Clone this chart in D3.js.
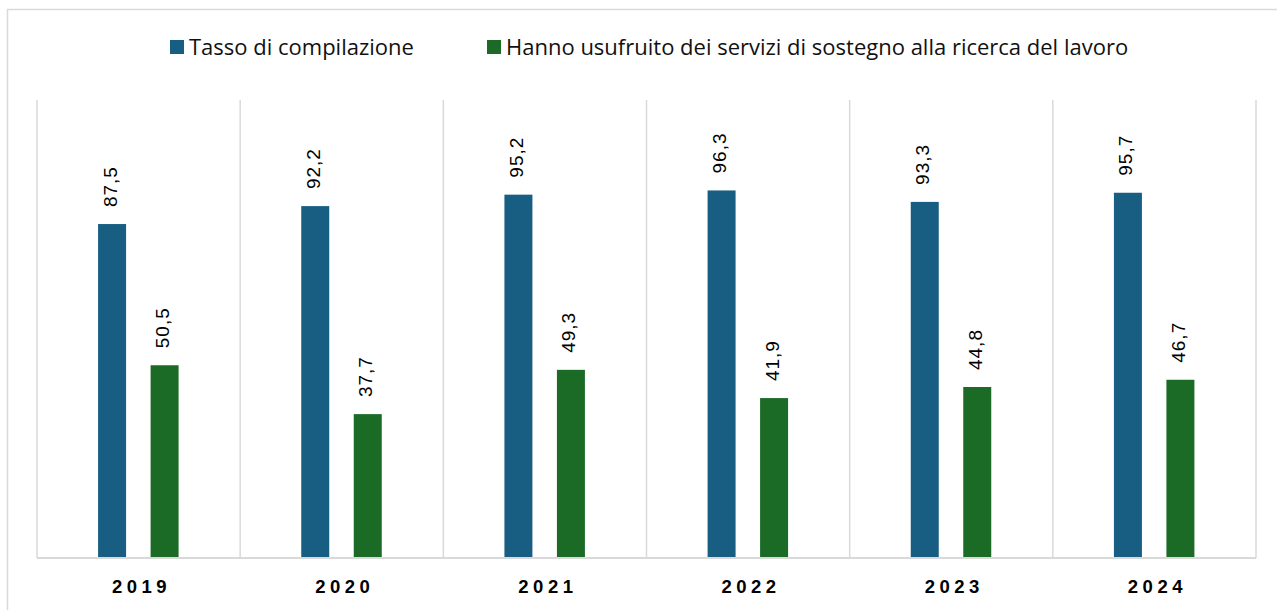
<!DOCTYPE html>
<html>
<head>
<meta charset="utf-8">
<script src="https://cdn.jsdelivr.net/npm/d3@7"></script>
<style>
  body { margin: 0; background: #fff; }
  svg { display: block; }
</style>
</head>
<body>
<svg id="chart" width="1277" height="610"></svg>
<script>
var years = ["2019", "2020", "2021", "2022", "2023", "2024"];
var seriesNames = ["Tasso di compilazione", "Hanno usufruito dei servizi di sostegno alla ricerca del lavoro"];
var compilazione = [87.5, 92.2, 95.2, 96.3, 93.3, 95.7];
var sostegno = [50.5, 37.7, 49.3, 41.9, 44.8, 46.7];
var colors = ["#175e82", "#1b6b27"];

var svg = d3.select("#chart"),
    margin = { top: 100, right: 21, bottom: 52, left: 37 },
    width = +svg.attr("width") - margin.left - margin.right,
    height = +svg.attr("height") - margin.top - margin.bottom;

// outer frame
svg.append("rect")
    .attr("x", 7.5).attr("y", 9.5)
    .attr("width", 1280).attr("height", 610)
    .attr("fill", "none")
    .attr("stroke", "#d9d9d9")
    .attr("stroke-width", 1.5);

var g = svg.append("g")
    .attr("transform", "translate(" + margin.left + "," + margin.top + ")");

var x = d3.scaleBand().domain(years).range([0, width]);
var y = d3.scaleLinear().domain([0, 120]).range([height, 0]);

var data = years.map(function(yr, i) {
    return { year: yr, values: [compilazione[i], sostegno[i]] };
});

var barW = 28, offsets = [-26.5, 26];

// vertical separators
g.selectAll(".sep")
    .data(d3.range(years.length + 1))
    .enter().append("line")
    .attr("class", "sep")
    .attr("x1", function(i) { return i * x.bandwidth(); })
    .attr("x2", function(i) { return i * x.bandwidth(); })
    .attr("y1", 0).attr("y2", height)
    .attr("stroke", "#d9d9d9").attr("stroke-width", 1.5);

var groups = g.selectAll(".year")
    .data(data)
    .enter().append("g")
    .attr("transform", function(d) { return "translate(" + (x(d.year) + x.bandwidth() / 2) + ",0)"; });

groups.selectAll("rect")
    .data(function(d) { return d.values; })
    .enter().append("rect")
    .attr("x", function(v, i) { return offsets[i] - barW / 2; })
    .attr("y", function(v) { return y(v); })
    .attr("width", barW)
    .attr("height", function(v) { return height - y(v); })
    .attr("fill", function(v, i) { return colors[i]; });

groups.selectAll("text.lbl")
    .data(function(d) { return d.values; })
    .enter().append("text")
    .attr("class", "lbl")
    .attr("transform", function(v, i) { return "translate(" + (offsets[i] + 4.5) + "," + (y(v) - 17) + ") rotate(-90)"; })
    .attr("font-family", "Liberation Sans, Arial, sans-serif")
    .attr("font-size", 19)
    .attr("letter-spacing", "1px")
    .attr("fill", "#000")
    .text(function(v) { return d3.format(".1f")(v).replace(".", ","); });

// baseline
g.append("line")
    .attr("x1", 0).attr("x2", width)
    .attr("y1", height).attr("y2", height)
    .attr("stroke", "#d9d9d9").attr("stroke-width", 2);

// year labels
g.selectAll(".yr")
    .data(years)
    .enter().append("text")
    .attr("x", function(d) { return x(d) + x.bandwidth() / 2 + 3; })
    .attr("y", height + 35)
    .attr("text-anchor", "middle")
    .attr("font-family", "Liberation Sans, Arial, sans-serif")
    .attr("font-weight", "bold")
    .attr("font-size", 18.5)
    .attr("letter-spacing", "4.5px")
    .attr("fill", "#000")
    .text(function(d) { return d; });

// legend
var legendX = [170, 487];
var legend = svg.selectAll(".leg")
    .data(seriesNames)
    .enter().append("g")
    .attr("transform", function(d, i) { return "translate(" + legendX[i] + ",40)"; });

legend.append("rect")
    .attr("width", 14).attr("height", 14)
    .attr("fill", function(d, i) { return colors[i]; });

legend.append("text")
    .attr("x", 19).attr("y", 14.5)
    .attr("font-family", "Open Sans, sans-serif")
    .attr("font-size", 22)
    .attr("fill", "#111")
    .text(function(d) { return d; });
</script>
</body>
</html>
